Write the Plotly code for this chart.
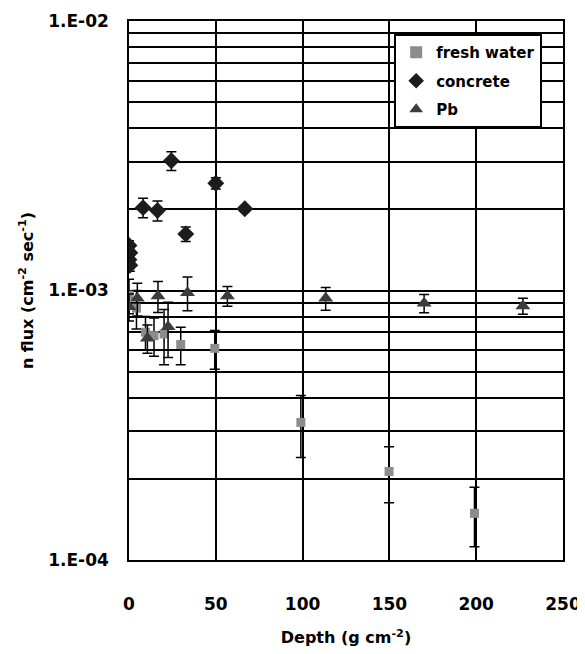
import plotly.graph_objects as go

# fresh water
water_x = [0, 4.3, 9.5, 14.4, 20.2, 29.8, 49.4, 99, 149.8, 199]
water_y = [0.96e-3, 0.86e-3, 0.70e-3, 0.68e-3, 0.69e-3, 0.63e-3, 0.61e-3, 0.324e-3, 0.213e-3, 0.149e-3]
water_err = [0.14e-3, 0.14e-3, 0.1e-3, 0.11e-3, 0.16e-3, 0.1e-3, 0.1e-3, 0.084e-3, 0.05e-3, 0.037e-3]

# concrete
conc_x = [0, 0.5, 0, 0.5, 8.1, 16.4, 24.4, 32.7, 50, 66.7]
conc_y = [1.47e-3, 1.38e-3, 1.30e-3, 1.24e-3, 2.03e-3, 1.98e-3, 3.03e-3, 1.62e-3, 2.50e-3, 2.01e-3]
conc_err = [0.06e-3, 0.06e-3, 0.06e-3, 0.06e-3, 0.17e-3, 0.17e-3, 0.24e-3, 0.1e-3, 0.12e-3, 0.05e-3]

# Pb
pb_x = [0, 4.8, 10.6, 16.7, 22.5, 33.7, 56.7, 113.3, 170, 226.9]
pb_y = [0.87e-3, 0.935e-3, 0.665e-3, 0.954e-3, 0.734e-3, 0.982e-3, 0.954e-3, 0.935e-3, 0.896e-3, 0.876e-3]
pb_err = [0.1e-3, 0.13e-3, 0.08e-3, 0.125e-3, 0.17e-3, 0.14e-3, 0.08e-3, 0.09e-3, 0.07e-3, 0.06e-3]

x_ticks = [0, 50, 100, 150, 200, 250]
y_ticks = [1e-4, 1e-3, 1e-2]
y_tick_labels = ["1.E-04", "1.E-03", "1.E-02"]
y_minor = [m * 10 ** e for e in (-4, -3) for m in range(2, 10)]

FONT = "DejaVu Sans"


def bold(size):
    return dict(family=FONT, size=size, color="black", weight="bold")


err_style = dict(type="data", thickness=1.5, width=5, color="black")

fig = go.Figure()
fig.add_trace(go.Scatter(
    x=water_x, y=water_y, mode="markers", name="fresh water", legendgroup="w",
    marker=dict(symbol="square", size=9, color="#8c8c8c"),
    error_y=dict(array=water_err, **err_style)))
fig.add_trace(go.Scatter(
    x=conc_x, y=conc_y, mode="markers", name="concrete", legendgroup="c",
    marker=dict(symbol="diamond", size=13, color="#1c1c1c"),
    error_y=dict(array=conc_err, **err_style)))
fig.add_trace(go.Scatter(
    x=pb_x, y=pb_y, mode="markers", name="Pb", legendgroup="p",
    marker=dict(symbol="triangle-up", size=13, color="#3c3c3c"),
    error_y=dict(array=pb_err, **err_style)))

# page body adds an 8px offset, so the figure is 8px smaller and shifted
fig.update_layout(
    width=577, height=646,
    margin=dict(l=121, r=22, t=13, b=94, autoexpand=False),
    paper_bgcolor="white", plot_bgcolor="white",
    font=bold(15),
    showlegend=True,
    legend=dict(
        x=0.611, y=0.976, xanchor="left", yanchor="top",
        bgcolor="white", bordercolor="black", borderwidth=2,
        font=bold(15),
        itemsizing="constant", traceorder="grouped", tracegroupgap=6,
        entrywidth=137, itemwidth=30,
    ),
    xaxis=dict(
        range=[0, 250], tickvals=x_ticks,
        tickfont=bold(17),
        showgrid=True, gridcolor="black", gridwidth=1.5,
        showline=True, linecolor="black", linewidth=1.5, mirror=True,
        zeroline=False, ticks="", ticklabelstandoff=28, automargin=False,
        title=dict(text="Depth (g cm<sup>-2</sup>)", standoff=19, font=bold(16)),
    ),
    yaxis=dict(
        type="log", range=[-4, -2], tickvals=y_ticks, ticktext=y_tick_labels,
        tickfont=bold(17),
        showgrid=True, gridcolor="black", gridwidth=1.5,
        minor=dict(tickvals=y_minor, showgrid=True, gridcolor="black",
                   gridwidth=1.5, ticks=""),
        showline=True, linecolor="black", linewidth=1.5, mirror=True,
        zeroline=False, ticks="", ticklabelstandoff=15, automargin=False,
        title=dict(text="n flux (cm<sup>-2</sup> sec<sup>-1</sup>)",
                   standoff=11, font=bold(16)),
    ),
)

fig.write_html("out.html")
